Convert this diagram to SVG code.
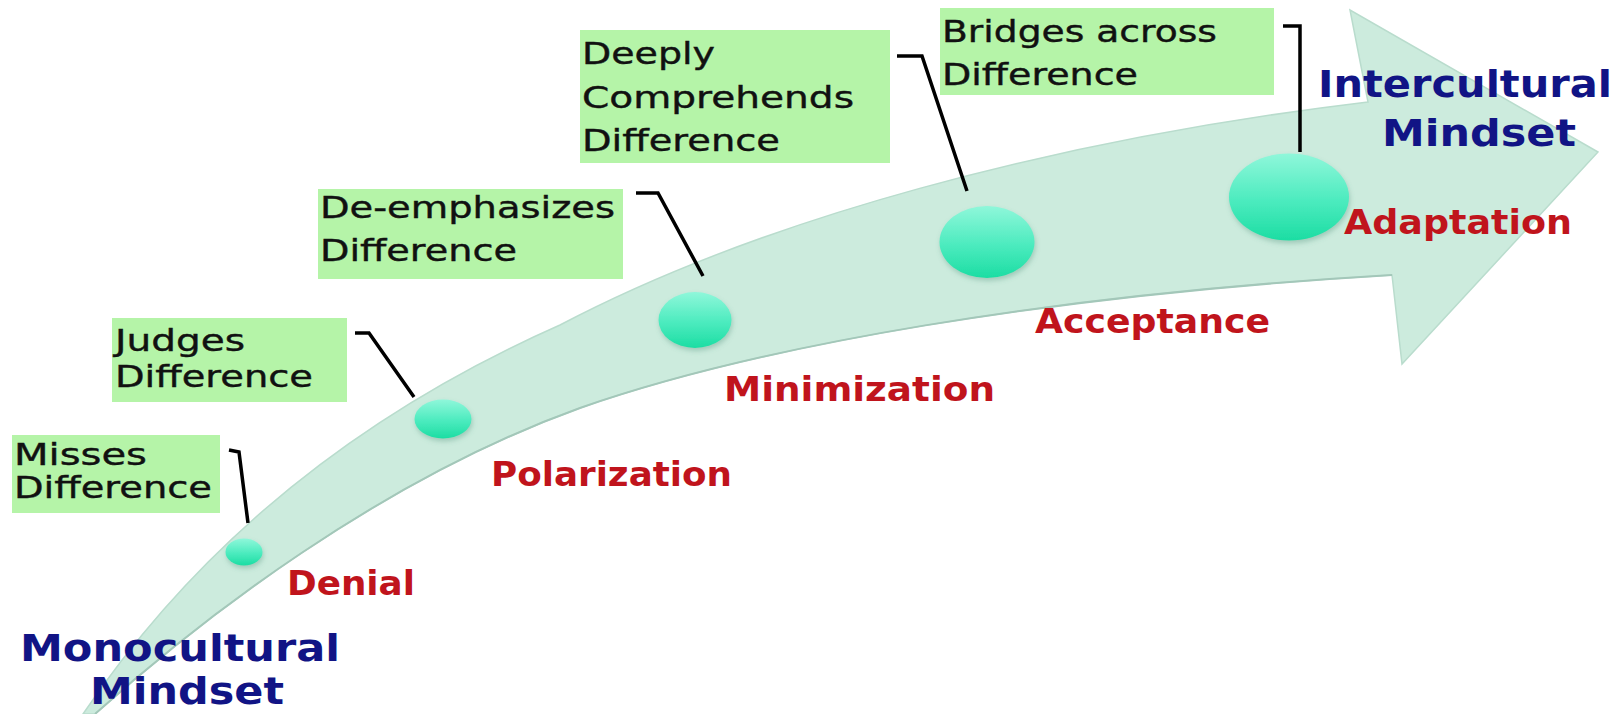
<svg xmlns="http://www.w3.org/2000/svg" width="1621" height="714" viewBox="0 0 1621 714">
<defs>
<linearGradient id="dotg" x1="0" y1="0" x2="0" y2="1">
<stop offset="0" stop-color="#8FF7DA"/>
<stop offset="0.55" stop-color="#4BEBBE"/>
<stop offset="1" stop-color="#1CDDA3"/>
</linearGradient>
<filter id="sh" x="-30%" y="-30%" width="160%" height="170%">
<feDropShadow dx="1" dy="3" stdDeviation="2.5" flood-color="#4a8a76" flood-opacity="0.35"/>
</filter>
<style>
.box{fill:#B5F4A8}
.bt{font-family:"DejaVu Sans",Verdana,sans-serif;font-size:30px;fill:#111;stroke:#111;stroke-width:0.4}
.stage{font-family:"DejaVu Sans",Verdana,sans-serif;font-weight:bold;font-size:34px;fill:#C0141C}
.mind{font-family:"DejaVu Sans",Verdana,sans-serif;font-weight:bold;font-size:38px;fill:#111485}
.dot{fill:url(#dotg);filter:url(#sh)}
.con{fill:none;stroke:#000;stroke-width:3.5;stroke-linejoin:miter}
</style>
</defs>
<rect width="1621" height="714" fill="#fff"/>
<g id="band">
<path d="M 83,714 C 160,600 300,440 560,325 C 760,220 1050,140 1368,102 L 1350,10 L 1598,152 L 1402,364 L 1392,275 C 1050,295 760,345 580,408 C 380,480 200,620 95,714 Z" fill="#CCEBDD" stroke="#B9DCCD" stroke-width="1.5"/>
<path d="M 1392,275 C 1050,295 760,345 580,408 C 380,480 200,620 95,714" fill="none" stroke="#A3C7B9" stroke-width="2"/>
</g>
<g id="connectors">
<polyline class="con" points="229,450 239,452 248,523"/>
<polyline class="con" points="355,333 369,333 414,397"/>
<polyline class="con" points="636,193 658,193 703,276"/>
<polyline class="con" points="897,56 922,56 967,191"/>
<polyline class="con" points="1283,26 1300,26 1300,152"/>
</g>
<g id="box-misses">
<rect class="box" x="12" y="435" width="208" height="78"/>
<text class="bt" x="14" y="465" textLength="133" lengthAdjust="spacingAndGlyphs">Misses</text>
<text class="bt" x="14" y="498" textLength="198" lengthAdjust="spacingAndGlyphs">Difference</text>
</g>
<g id="box-judges">
<rect class="box" x="112" y="318" width="235" height="84"/>
<text class="bt" x="115" y="351" textLength="130" lengthAdjust="spacingAndGlyphs">Judges</text>
<text class="bt" x="115" y="387" textLength="198" lengthAdjust="spacingAndGlyphs">Difference</text>
</g>
<g id="box-deemphasizes">
<rect class="box" x="318" y="189" width="305" height="90"/>
<text class="bt" x="320" y="218" textLength="295" lengthAdjust="spacingAndGlyphs">De-emphasizes</text>
<text class="bt" x="320" y="261" textLength="197" lengthAdjust="spacingAndGlyphs">Difference</text>
</g>
<g id="box-deeply">
<rect class="box" x="580" y="30" width="310" height="133"/>
<text class="bt" x="582" y="64" textLength="133" lengthAdjust="spacingAndGlyphs">Deeply</text>
<text class="bt" x="582" y="108" textLength="272" lengthAdjust="spacingAndGlyphs">Comprehends</text>
<text class="bt" x="582" y="151" textLength="198" lengthAdjust="spacingAndGlyphs">Difference</text>
</g>
<g id="box-bridges">
<rect class="box" x="940" y="8" width="334" height="87"/>
<text class="bt" x="942" y="42" textLength="275" lengthAdjust="spacingAndGlyphs">Bridges across</text>
<text class="bt" x="942" y="85" textLength="196" lengthAdjust="spacingAndGlyphs">Difference</text>
</g>
<g id="stage-denial">
<ellipse class="dot" cx="244" cy="552" rx="18.5" ry="13.5"/>
<text class="stage" x="287" y="595" textLength="128" lengthAdjust="spacingAndGlyphs">Denial</text>
</g>
<g id="stage-polarization">
<ellipse class="dot" cx="443" cy="419" rx="28.5" ry="19.5"/>
<text class="stage" x="491" y="486" textLength="241" lengthAdjust="spacingAndGlyphs">Polarization</text>
</g>
<g id="stage-minimization">
<ellipse class="dot" cx="695" cy="320" rx="36.5" ry="28"/>
<text class="stage" x="724" y="401" textLength="271" lengthAdjust="spacingAndGlyphs">Minimization</text>
</g>
<g id="stage-acceptance">
<ellipse class="dot" cx="987" cy="242" rx="47.5" ry="36"/>
<text class="stage" x="1035" y="333" textLength="235" lengthAdjust="spacingAndGlyphs">Acceptance</text>
</g>
<g id="stage-adaptation">
<ellipse class="dot" cx="1289" cy="197" rx="60" ry="43.5"/>
<text class="stage" x="1344" y="234" textLength="228" lengthAdjust="spacingAndGlyphs">Adaptation</text>
</g>
<g id="monocultural">
<text class="mind" x="20" y="661" textLength="320" lengthAdjust="spacingAndGlyphs">Monocultural</text>
<text class="mind" x="90" y="704" textLength="194" lengthAdjust="spacingAndGlyphs">Mindset</text>
</g>
<g id="intercultural">
<text class="mind" x="1318" y="97" textLength="294" lengthAdjust="spacingAndGlyphs">Intercultural</text>
<text class="mind" x="1382" y="146" textLength="194" lengthAdjust="spacingAndGlyphs">Mindset</text>
</g>
</svg>
